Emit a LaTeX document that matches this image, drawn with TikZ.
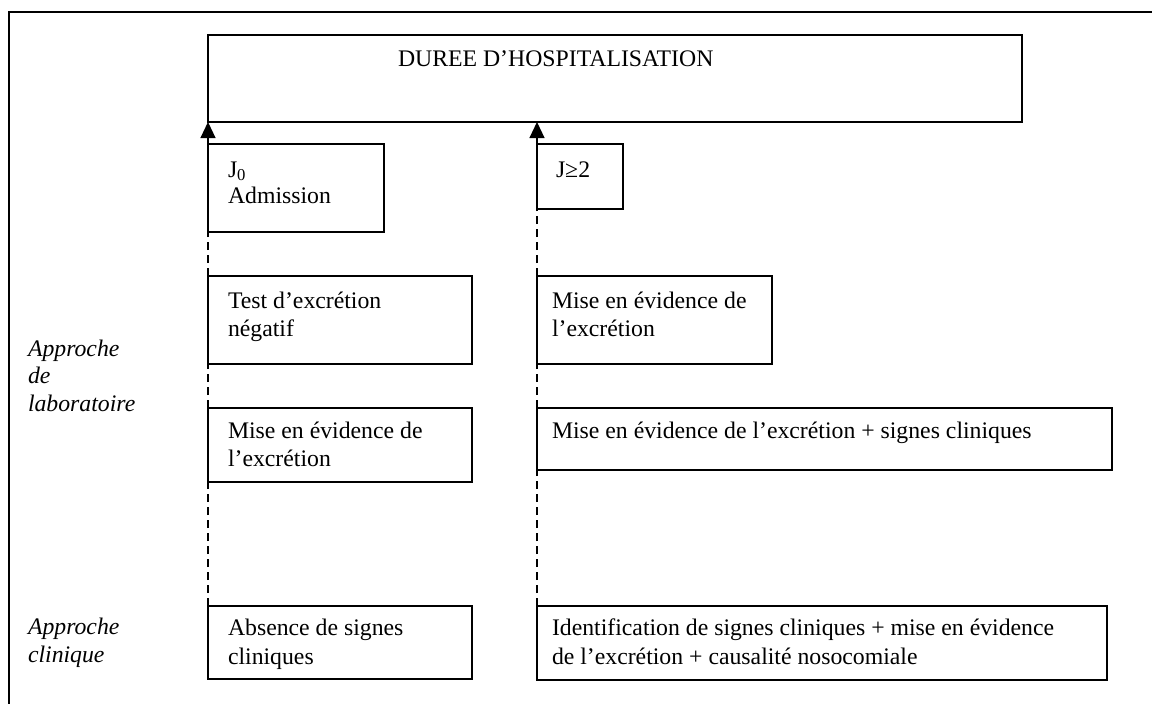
\documentclass[tikz,border=0pt]{standalone}
\usepackage{fontspec}
\setmainfont{Liberation Serif}
\usetikzlibrary{arrows.meta}
\begin{document}
\begin{tikzpicture}[x=1pt,y=-1pt,
  box/.style={draw=black,line width=1.6pt,rectangle,inner sep=0pt,outer sep=0pt,anchor=north west},
  % text nodes are placed by the baseline of their last line
  txt/.style={inner sep=0pt,outer sep=0pt,anchor=base west,align=left,
              font=\fontsize{23.75}{28.5}\selectfont},
  side/.style={txt,font=\fontsize{23.75}{27.5}\selectfont\itshape},
  link/.style={draw=black,line width=1.1pt,dash pattern=on 8pt off 5pt},
  up/.style={draw=black,line width=1.1pt,-{Triangle[width=15pt,length=16pt]}}]
\useasboundingbox (0,0) rectangle (1152,704);
% outer frame (open towards the right and bottom)
\draw[line width=2pt] (9,704) -- (9,12) -- (1152,12);

% time line
\node[box,minimum width=814pt,minimum height=87pt] (duree) at (208,35) {};
\node[txt] (dureet) at (398,66) {DUREE D’HOSPITALISATION};

% day boxes
\node[box,minimum width=176pt,minimum height=88pt] (j0) at (208,144) {};
\node[txt] (j0t) at (228,203) {J\textsubscript{0}\\[-2.5pt]Admission};
\node[box,minimum width=86pt,minimum height=65pt] (j2) at (537,144) {};
\node[txt] (j2t) at (556,177) {J≥2};

% laboratory approach
\node[box,minimum width=264pt,minimum height=88pt] (lab1) at (208,276) {};
\node[txt] (lab1t) at (228,336.5) {Test d’excrétion\\négatif};
\node[box,minimum width=235pt,minimum height=88pt] (lab2) at (537,276) {};
\node[txt] (lab2t) at (552,336.5) {Mise en évidence de\\l’excrétion};
\node[box,minimum width=264pt,minimum height=74pt] (lab3) at (208,408) {};
\node[txt] (lab3t) at (228,466.5) {Mise en évidence de\\l’excrétion};
\node[box,minimum width=575pt,minimum height=62pt] (lab4) at (537,408) {};
\node[txt] (lab4t) at (552,438) {Mise en évidence de l’excrétion + signes cliniques};

% clinical approach
\node[box,minimum width=264pt,minimum height=73pt] (cli1) at (208,606) {};
\node[txt] (cli1t) at (228,664) {Absence de signes\\cliniques};
\node[box,minimum width=570pt,minimum height=74pt] (cli2) at (537,606) {};
\node[txt] (cli2t) at (552,664) {Identification de signes cliniques + mise en évidence\\de l’excrétion + causalité nosocomiale};

% row labels
\node[side] (labo) at (28,411) {Approche\\de\\laboratoire};
\node[side] (clin) at (28,662) {Approche\\clinique};

% dashed links, left column
\draw[link] (cli1.north west) -- (lab3.south west);
\draw[link] (lab3.north west) -- (lab1.south west);
\draw[link] (lab1.north west) -- (j0.south west);
\draw[up] (j0.north west) -- (duree.south west);
% dashed links, right column
\draw[link] (cli2.north west) -- (lab4.south west);
\draw[link] (lab4.north west) -- (lab2.south west);
\draw[link] (lab2.north west) -- (j2.south west);
\draw[up] (j2.north west) -- (j2.north west |- duree.south);
\end{tikzpicture}
\end{document}
